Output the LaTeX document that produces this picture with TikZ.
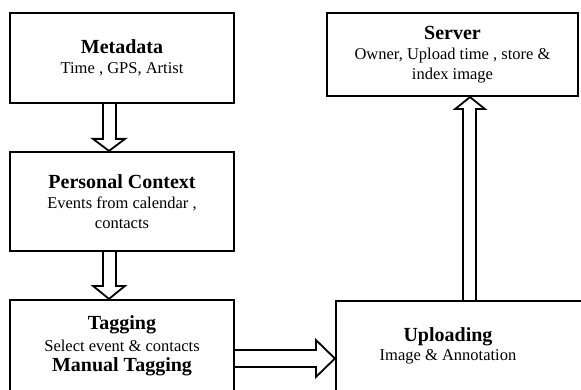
\documentclass[tikz,border=0pt]{standalone}
\usepackage{fontspec}
\setmainfont{Liberation Serif}
\usetikzlibrary{calc}
\newcommand\ttlf{\fontsize{20}{22}\selectfont\bfseries}
\newcommand\subf{\fontsize{16.5}{20}\selectfont}
\begin{document}
\begin{tikzpicture}[x=1pt,y=-1pt,
  box/.style={draw, line width=2.2pt, inner sep=0pt, align=center, font=\subf},
  barrow/.style={draw, line width=1.8pt, line join=miter},
  lbl/.style={inner sep=0pt, align=center}]
\useasboundingbox (0,0) rectangle (581,390);
\clip (0,0) rectangle (581,390);
\fill[white] (0,0) rectangle (581,390);
% boxes
\node[box, minimum width=224pt, minimum height=90pt] (meta) at (122,58)
  {{\ttlf Metadata}\\ Time , GPS, Artist};
\node[box, minimum width=224pt, minimum height=99pt] (pc) at (122,201.5)
  {{\ttlf Personal Context}\\ Events from calendar ,\\ contacts};
\node[box, minimum width=224pt, minimum height=100pt] (tag) at (122,350) {};
\node[box, minimum width=264pt, minimum height=99pt] (up) at (468,350.5) {};
\node[box, minimum width=251pt, minimum height=83pt] (srv) at (452.5,54.5)
  {{\ttlf Server}\\ Owner, Upload time , store \&\\ index image};
% texts of cut boxes
\node[lbl, font=\ttlf] (tagt) at (122,325) {Tagging};
\node[lbl, font=\subf] (tags) at (122,346) {Select event \& contacts};
\node[lbl, font=\ttlf] (tagm) at (122,367) {Manual Tagging};
\node[lbl, font=\ttlf] (upt) at (448,337) {Uploading};
\node[lbl, font=\subf] (ups) at (448,357) {Image \& Annotation};
% block arrows
\draw[barrow] ($(meta.south)+(-19,0)$) -- ($(pc.north)+(-19,-12)$) -- ($(pc.north)+(-29,-12)$)
  -- ($(pc.north)+(-13,0)$) -- ($(pc.north)+(3,-12)$) -- ($(pc.north)+(-6,-12)$) -- ($(meta.south)+(-6,0)$);
\draw[barrow] ($(pc.south)+(-19,0)$) -- ($(tag.north)+(-19,-13)$) -- ($(tag.north)+(-29,-13)$)
  -- ($(tag.north)+(-13,0)$) -- ($(tag.north)+(3,-13)$) -- ($(tag.north)+(-6,-13)$) -- ($(pc.south)+(-6,0)$);
\draw[barrow] (tag.east) -- ($(up.west)+(-19,-0.5)$) -- ($(up.west)+(-19,-10.5)$)
  -- ($(up.west)+(0,8)$) -- ($(up.west)+(-19,26.5)$) -- ($(up.west)+(-19,16.5)$) -- ($(tag.east)+(0,17)$);
\draw[barrow] ($(up.north)+(-5,0)$) -- ($(srv.south)+(10.5,12)$) -- ($(srv.south)+(2.5,12)$)
  -- ($(srv.south)+(17.5,0)$) -- ($(srv.south)+(32.5,12)$) -- ($(srv.south)+(23.5,12)$) -- ($(up.north)+(8,0)$);
\end{tikzpicture}
\end{document}
